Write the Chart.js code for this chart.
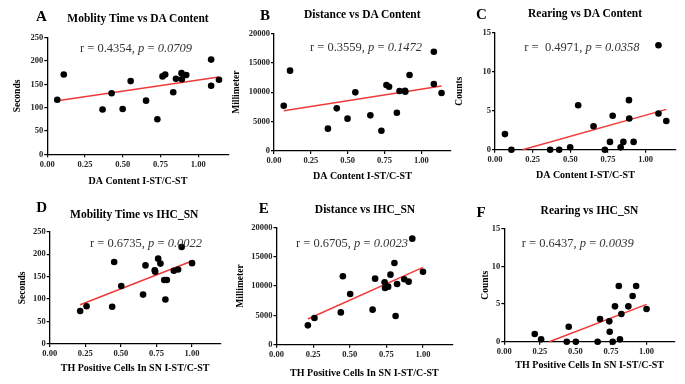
<!DOCTYPE html>
<html><head><meta charset="utf-8">
<script src="https://cdn.jsdelivr.net/npm/chart.js@4.4.1/dist/chart.umd.min.js"></script>
<style>
html,body{margin:0;padding:0;background:#fff;}
#wrap{position:relative;width:685px;height:384px;overflow:hidden;font-family:"Liberation Serif","Times New Roman",serif;}
canvas{position:absolute;}
.t{position:absolute;white-space:pre;line-height:1;}
.letter{font-size:15px;font-weight:bold;color:#000;transform:translate(-50%,-50%);}
.title{font-size:11.5px;font-weight:bold;color:#000;transform:translate(-50%,-50%);}
.stat{font-size:12.5px;color:#333;transform:translateY(-50%);}
.stat i{font-style:italic;}
</style></head><body><div id="wrap"></div>
<script>
// ---- data ----
const daContent  = [0.066, 0.109, 0.366, 0.426, 0.499, 0.552, 0.654, 0.729, 0.763, 0.781, 0.834, 0.852, 0.889, 0.891, 0.920, 1.085, 1.085, 1.137];
const mobilityDA = [117, 171, 96, 131, 97, 157, 115, 75, 167, 171, 133, 162, 174, 161, 170, 203, 147, 160];
const distanceDA = [7700, 13650, 3800, 7250, 5500, 9970, 6060, 3450, 11210, 10930, 6510, 10190, 10250, 10080, 12910, 16870, 11380, 9850];
const rearingDA  = [2.0, 0, 0, 0, 0.3, 5.7, 3.0, 0, 1.0, 4.35, 0.3, 1.0, 6.35, 4.0, 1.0, 13.4, 4.65, 3.67];

const thSN       = [0.214, 0.259, 0.439, 0.453, 0.503, 0.656, 0.673, 0.738, 0.741, 0.762, 0.778, 0.805, 0.813, 0.823, 0.872, 0.902, 0.927, 1.000];
const mobilitySN = [73.5, 84, 83, 182.5, 129, 110, 175, 164, 161, 190, 179, 142.5, 99, 142.5, 163, 166, 216, 180];
const distanceSN = [3300, 4550, 5500, 11650, 8640, 5970, 11250, 10630, 9660, 9890, 11930, 13920, 4890, 10340, 11140, 10740, 18070, 12440];
const rearingSN  = [1.02, 0.31, 0, 1.99, 0, 0, 3.0, 2.7, 1.33, 0, 4.69, 7.39, 0.31, 3.67, 4.69, 6.06, 7.39, 4.34];

// regression line end points (x, y)
const fitXA = [0.066, 1.137], fitYA = [115, 165.7];
const fitXB = [0.066, 1.137], fitYB = [6850, 11040];
const fitXC = [0.183, 1.137], fitYC = [0, 5.17];
const fitXD = [0.214, 1.000], fitYD = [87.5, 184.7];
const fitXE = [0.214, 1.000], fitYE = [4380, 13180];
const fitXF = [0.316, 1.000], fitYF = [0, 4.96];

const xTicks = [0, 0.25, 0.5, 0.75, 1.0];
const yMaxes = {sec: 250, mm: 20000, cnt: 15};
const ySteps = {sec: 50, mm: 5000, cnt: 5};

const FONT = '"Liberation Serif","Times New Roman",serif';

const panels = [
  {letter:'A', title:'Moblity Time vs DA Content', xs:daContent, ys:mobilityDA, fx:fitXA, fy:fitYA,
   xTitle:'DA Content I-ST/C-ST', yTitle:'Seconds', unit:'sec', r:'r = 0.4354, ', p:'0.0709',
   box:[0,0,235,190], area:[47.3,228.5,37.7,154.3], ytc:18, xtc:181, lp:[41.3,15.8], tp:[138,19.2], sp:[80,47.5]},
  {letter:'B', title:'Distance vs DA Content', xs:daContent, ys:distanceDA, fx:fitXB, fy:fitYB,
   xTitle:'DA Content I-ST/C-ST', yTitle:'Millimeter', unit:'mm', r:'r = 0.3559, ', p:'0.1472',
   box:[228,0,229,190], area:[274,450.8,33.3,151], ytc:236.7, xtc:176.7, lp:[265,15], tp:[362.3,15.2], sp:[310,47.2]},
  {letter:'C', title:'Rearing vs DA Content', xs:daContent, ys:rearingDA, fx:fitXC, fy:fitYC,
   xTitle:'DA Content I-ST/C-ST', yTitle:'Counts', unit:'cnt', r:'r =  0.4971, ', p:'0.0358',
   box:[453,0,232,190], area:[495,675.8,32.7,149.7], ytc:459.7, xtc:175, lp:[481.5,14.3], tp:[585,13.7], sp:[524.3,47.2]},
  {letter:'D', title:'Mobility Time vs IHC_SN', xs:thSN, ys:mobilitySN, fx:fitXD, fy:fitYD,
   xTitle:'TH Positive Cells In SN I-ST/C-ST', yTitle:'Seconds', unit:'sec', r:'r = 0.6735, ', p:'0.0022',
   box:[0,190,232,194], area:[49.7,220.5,231.7,344], ytc:22.7, xtc:368.8, lp:[41.7,207.3], tp:[134.2,214.7], sp:[90,242.5]},
  {letter:'E', title:'Distance vs IHC_SN', xs:thSN, ys:distanceSN, fx:fitXE, fy:fitYE,
   xTitle:'TH Positive Cells In SN I-ST/C-ST', yTitle:'Millimeter', unit:'mm', r:'r = 0.6705, ', p:'0.0023',
   box:[228,190,229,194], area:[276.5,452.3,227.3,344.7], ytc:241, xtc:373, lp:[263.8,208.3], tp:[365,209.8], sp:[296,242.5]},
  {letter:'F', title:'Rearing vs IHC_SN', xs:thSN, ys:rearingSN, fx:fitXF, fy:fitYF,
   xTitle:'TH Positive Cells In SN I-ST/C-ST', yTitle:'Counts', unit:'cnt', r:'r = 0.6437, ', p:'0.0039',
   box:[456,190,229,194], area:[504.3,675,228.7,341.7], ytc:485.7, xtc:365.8, lp:[481,212], tp:[589.5,210.5], sp:[521.7,242.5]}
];

const wrap = document.getElementById('wrap');

function addText(cls, html, x, y) {
  const d = document.createElement('div');
  d.className = 't ' + cls;
  d.innerHTML = html;
  d.style.left = x + 'px';
  d.style.top = y + 'px';
  wrap.appendChild(d);
}

panels.forEach(p => {
  const [cl, ct, w, h] = p.box;
  const [al, ar, at, ab] = p.area;
  const cv = document.createElement('canvas');
  cv.width = w; cv.height = h;
  cv.style.left = cl + 'px'; cv.style.top = ct + 'px';
  cv.style.width = w + 'px'; cv.style.height = h + 'px';
  wrap.appendChild(cv);

  const yW = al - cl;
  const xH = ct + h - ab;
  const ytPad = p.ytc - cl - 9.5 * 1.2 / 2;
  const xtPad = ct + h - p.xtc - 10 * 1.2 / 2;
  const scatter = p.xs.map((x, i) => ({x: x, y: p.ys[i]}));
  const fit = p.fx.map((x, i) => ({x: x, y: p.fy[i]}));

  new Chart(cv, {
    type: 'scatter',
    data: {datasets: [
      {type: 'scatter', data: scatter, pointRadius: 3.3, pointHoverRadius: 3.3, backgroundColor: '#000', borderColor: '#000', borderWidth: 0, clip: false},
      {type: 'line', data: fit, borderColor: '#f03a3a', borderWidth: 1.5, pointRadius: 0, fill: false, clip: false}
    ]},
    options: {
      responsive: false, animation: false, devicePixelRatio: 1,
      layout: {padding: {left: 0, top: at - ct, right: cl + w - ar, bottom: 0}},
      plugins: {legend: {display: false}, tooltip: {enabled: false}},
      scales: {
        x: {
          type: 'linear', position: 'bottom', min: 0, max: 1.2,
          afterFit: s => { s.height = xH; },
          afterBuildTicks: s => { s.ticks = xTicks.map(v => ({value: v})); },
          ticks: {stepSize: 0.25, includeBounds: false, autoSkip: false, maxRotation: 0, padding: 2,
                  callback: v => Number(v).toFixed(2), color: '#222',
                  font: {family: FONT, size: 8.5, weight: 'bold'}},
          grid: {display: true, drawOnChartArea: false, drawTicks: true, tickLength: 3, color: '#000', lineWidth: 1.2},
          border: {display: true, color: '#000', width: 1.3},
          title: {display: true, text: p.xTitle, color: '#000', padding: {top: 0, bottom: xtPad},
                  font: {family: FONT, size: 10, weight: 'bold'}}
        },
        y: {
          type: 'linear', position: 'left', min: 0, max: yMaxes[p.unit],
          afterFit: s => { s.width = yW; },
          ticks: {stepSize: ySteps[p.unit], padding: 1, callback: v => String(v), color: '#222',
                  font: {family: FONT, size: 8.5, weight: 'bold'}},
          grid: {display: true, drawOnChartArea: false, drawTicks: true, tickLength: 3, color: '#000', lineWidth: 1.2},
          border: {display: true, color: '#000', width: 1.3},
          title: {display: true, text: p.yTitle, color: '#000', padding: {top: ytPad, bottom: 0},
                  font: {family: FONT, size: 9.5, weight: 'bold'}}
        }
      }
    }
  });

  addText('letter', p.letter, p.lp[0], p.lp[1]);
  addText('title', p.title, p.tp[0], p.tp[1]);
  addText('stat', p.r + '<i>p</i> = <i>' + p.p + '</i>', p.sp[0], p.sp[1]);
});
</script>
</body></html>
